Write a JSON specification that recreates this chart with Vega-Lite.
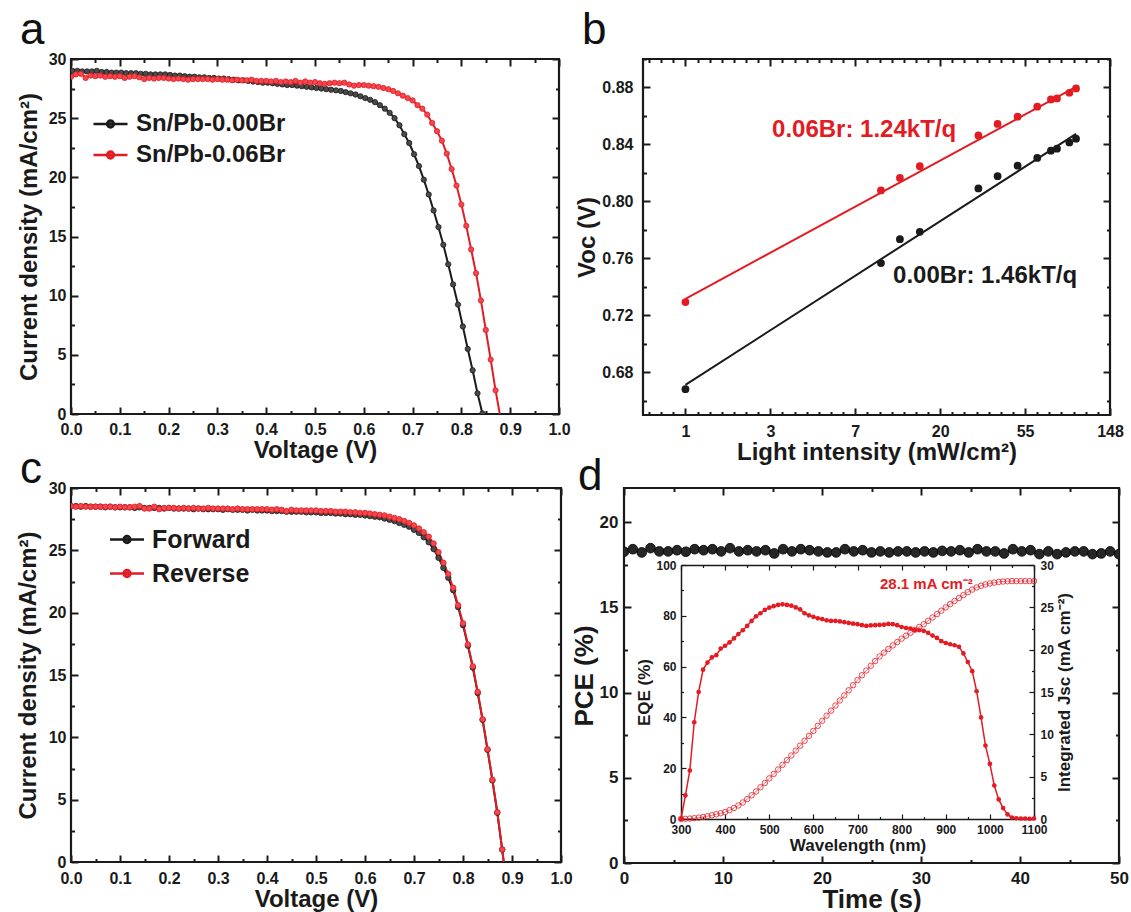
{
"$schema": "https://vega.github.io/schema/vega-lite/v6.json",
"background": "white",
"padding": {"left": 15, "top": 7, "right": 0, "bottom": 0},
"config": {
  "font": "Liberation Sans",
  "view": {"stroke": "#1a1a1a", "strokeWidth": 2.2},
  "title": {"font": "Liberation Sans"},
  "axis": {"domain": false, "grid": false, "ticks": true, "tickWidth": 2, "tickColor": "#1a1a1a", "labelFont": "Liberation Sans", "labelFontWeight": "bold", "labelColor": "#1a1a1a", "titleFont": "Liberation Sans", "titleFontWeight": "bold", "titleColor": "#1a1a1a", "labelFlush": false, "labelOverlap": false, "labelBound": false}
},
"datasets": {
"jvA": [
{"series":"Sn/Pb-0.00Br","V":0.003,"J":29.0},{"series":"Sn/Pb-0.00Br","V":0.013,"J":29.0},{"series":"Sn/Pb-0.00Br","V":0.023,"J":28.95},{"series":"Sn/Pb-0.00Br","V":0.033,"J":28.95},{"series":"Sn/Pb-0.00Br","V":0.043,"J":28.95},{"series":"Sn/Pb-0.00Br","V":0.053,"J":29.0},{"series":"Sn/Pb-0.00Br","V":0.063,"J":28.9},{"series":"Sn/Pb-0.00Br","V":0.073,"J":28.9},{"series":"Sn/Pb-0.00Br","V":0.083,"J":28.85},{"series":"Sn/Pb-0.00Br","V":0.093,"J":28.85},
{"series":"Sn/Pb-0.00Br","V":0.103,"J":28.85},{"series":"Sn/Pb-0.00Br","V":0.113,"J":28.8},{"series":"Sn/Pb-0.00Br","V":0.123,"J":28.8},{"series":"Sn/Pb-0.00Br","V":0.133,"J":28.8},{"series":"Sn/Pb-0.00Br","V":0.143,"J":28.75},{"series":"Sn/Pb-0.00Br","V":0.153,"J":28.75},{"series":"Sn/Pb-0.00Br","V":0.163,"J":28.7},{"series":"Sn/Pb-0.00Br","V":0.173,"J":28.7},{"series":"Sn/Pb-0.00Br","V":0.183,"J":28.7},{"series":"Sn/Pb-0.00Br","V":0.193,"J":28.7},
{"series":"Sn/Pb-0.00Br","V":0.203,"J":28.65},{"series":"Sn/Pb-0.00Br","V":0.213,"J":28.6},{"series":"Sn/Pb-0.00Br","V":0.223,"J":28.6},{"series":"Sn/Pb-0.00Br","V":0.233,"J":28.55},{"series":"Sn/Pb-0.00Br","V":0.243,"J":28.5},{"series":"Sn/Pb-0.00Br","V":0.253,"J":28.5},{"series":"Sn/Pb-0.00Br","V":0.263,"J":28.45},{"series":"Sn/Pb-0.00Br","V":0.273,"J":28.45},{"series":"Sn/Pb-0.00Br","V":0.283,"J":28.4},{"series":"Sn/Pb-0.00Br","V":0.293,"J":28.4},
{"series":"Sn/Pb-0.00Br","V":0.303,"J":28.35},{"series":"Sn/Pb-0.00Br","V":0.313,"J":28.35},{"series":"Sn/Pb-0.00Br","V":0.323,"J":28.3},{"series":"Sn/Pb-0.00Br","V":0.333,"J":28.25},{"series":"Sn/Pb-0.00Br","V":0.343,"J":28.2},{"series":"Sn/Pb-0.00Br","V":0.353,"J":28.2},{"series":"Sn/Pb-0.00Br","V":0.363,"J":28.15},{"series":"Sn/Pb-0.00Br","V":0.373,"J":28.1},{"series":"Sn/Pb-0.00Br","V":0.383,"J":28.05},{"series":"Sn/Pb-0.00Br","V":0.393,"J":28.0},
{"series":"Sn/Pb-0.00Br","V":0.403,"J":28.0},{"series":"Sn/Pb-0.00Br","V":0.413,"J":27.95},{"series":"Sn/Pb-0.00Br","V":0.423,"J":27.9},{"series":"Sn/Pb-0.00Br","V":0.433,"J":27.85},{"series":"Sn/Pb-0.00Br","V":0.443,"J":27.8},{"series":"Sn/Pb-0.00Br","V":0.453,"J":27.8},{"series":"Sn/Pb-0.00Br","V":0.463,"J":27.75},{"series":"Sn/Pb-0.00Br","V":0.473,"J":27.7},{"series":"Sn/Pb-0.00Br","V":0.483,"J":27.65},{"series":"Sn/Pb-0.00Br","V":0.493,"J":27.6},
{"series":"Sn/Pb-0.00Br","V":0.503,"J":27.55},{"series":"Sn/Pb-0.00Br","V":0.513,"J":27.5},{"series":"Sn/Pb-0.00Br","V":0.523,"J":27.45},{"series":"Sn/Pb-0.00Br","V":0.533,"J":27.4},{"series":"Sn/Pb-0.00Br","V":0.543,"J":27.35},{"series":"Sn/Pb-0.00Br","V":0.553,"J":27.3},{"series":"Sn/Pb-0.00Br","V":0.563,"J":27.2},{"series":"Sn/Pb-0.00Br","V":0.573,"J":27.1},{"series":"Sn/Pb-0.00Br","V":0.583,"J":27.0},{"series":"Sn/Pb-0.00Br","V":0.593,"J":26.85},
{"series":"Sn/Pb-0.00Br","V":0.603,"J":26.7},{"series":"Sn/Pb-0.00Br","V":0.613,"J":26.55},{"series":"Sn/Pb-0.00Br","V":0.623,"J":26.35},{"series":"Sn/Pb-0.00Br","V":0.633,"J":26.1},{"series":"Sn/Pb-0.00Br","V":0.643,"J":25.8},{"series":"Sn/Pb-0.00Br","V":0.653,"J":25.45},{"series":"Sn/Pb-0.00Br","V":0.663,"J":25.0},{"series":"Sn/Pb-0.00Br","V":0.673,"J":24.4},{"series":"Sn/Pb-0.00Br","V":0.683,"J":23.65},{"series":"Sn/Pb-0.00Br","V":0.693,"J":22.9},
{"series":"Sn/Pb-0.00Br","V":0.703,"J":21.95},{"series":"Sn/Pb-0.00Br","V":0.713,"J":20.95},{"series":"Sn/Pb-0.00Br","V":0.723,"J":19.8},{"series":"Sn/Pb-0.00Br","V":0.733,"J":18.55},{"series":"Sn/Pb-0.00Br","V":0.743,"J":17.2},{"series":"Sn/Pb-0.00Br","V":0.753,"J":15.8},{"series":"Sn/Pb-0.00Br","V":0.763,"J":14.3},{"series":"Sn/Pb-0.00Br","V":0.773,"J":12.65},{"series":"Sn/Pb-0.00Br","V":0.783,"J":10.95},{"series":"Sn/Pb-0.00Br","V":0.793,"J":9.25},
{"series":"Sn/Pb-0.00Br","V":0.803,"J":7.4},{"series":"Sn/Pb-0.00Br","V":0.813,"J":5.5},{"series":"Sn/Pb-0.00Br","V":0.823,"J":3.7},{"series":"Sn/Pb-0.00Br","V":0.833,"J":1.75},{"series":"Sn/Pb-0.00Br","V":0.843,"J":0.05},
{"series":"Sn/Pb-0.06Br","V":0.0,"J":28.5},{"series":"Sn/Pb-0.06Br","V":0.01,"J":28.7},{"series":"Sn/Pb-0.06Br","V":0.02,"J":28.75},{"series":"Sn/Pb-0.06Br","V":0.03,"J":28.4},{"series":"Sn/Pb-0.06Br","V":0.04,"J":28.6},{"series":"Sn/Pb-0.06Br","V":0.05,"J":28.55},{"series":"Sn/Pb-0.06Br","V":0.06,"J":28.6},{"series":"Sn/Pb-0.06Br","V":0.07,"J":28.5},{"series":"Sn/Pb-0.06Br","V":0.08,"J":28.55},{"series":"Sn/Pb-0.06Br","V":0.09,"J":28.5},
{"series":"Sn/Pb-0.06Br","V":0.1,"J":28.55},{"series":"Sn/Pb-0.06Br","V":0.11,"J":28.4},{"series":"Sn/Pb-0.06Br","V":0.12,"J":28.5},{"series":"Sn/Pb-0.06Br","V":0.13,"J":28.55},{"series":"Sn/Pb-0.06Br","V":0.14,"J":28.45},{"series":"Sn/Pb-0.06Br","V":0.15,"J":28.3},{"series":"Sn/Pb-0.06Br","V":0.16,"J":28.4},{"series":"Sn/Pb-0.06Br","V":0.17,"J":28.35},{"series":"Sn/Pb-0.06Br","V":0.18,"J":28.4},{"series":"Sn/Pb-0.06Br","V":0.19,"J":28.4},
{"series":"Sn/Pb-0.06Br","V":0.2,"J":28.35},{"series":"Sn/Pb-0.06Br","V":0.21,"J":28.3},{"series":"Sn/Pb-0.06Br","V":0.22,"J":28.35},{"series":"Sn/Pb-0.06Br","V":0.23,"J":28.3},{"series":"Sn/Pb-0.06Br","V":0.24,"J":28.25},{"series":"Sn/Pb-0.06Br","V":0.25,"J":28.3},{"series":"Sn/Pb-0.06Br","V":0.26,"J":28.3},{"series":"Sn/Pb-0.06Br","V":0.27,"J":28.3},{"series":"Sn/Pb-0.06Br","V":0.28,"J":28.3},{"series":"Sn/Pb-0.06Br","V":0.29,"J":28.25},
{"series":"Sn/Pb-0.06Br","V":0.3,"J":28.3},{"series":"Sn/Pb-0.06Br","V":0.31,"J":28.25},{"series":"Sn/Pb-0.06Br","V":0.32,"J":28.25},{"series":"Sn/Pb-0.06Br","V":0.33,"J":28.2},{"series":"Sn/Pb-0.06Br","V":0.34,"J":28.25},{"series":"Sn/Pb-0.06Br","V":0.35,"J":28.2},{"series":"Sn/Pb-0.06Br","V":0.36,"J":28.2},{"series":"Sn/Pb-0.06Br","V":0.37,"J":28.25},{"series":"Sn/Pb-0.06Br","V":0.38,"J":28.15},{"series":"Sn/Pb-0.06Br","V":0.39,"J":28.15},
{"series":"Sn/Pb-0.06Br","V":0.4,"J":28.15},{"series":"Sn/Pb-0.06Br","V":0.41,"J":28.1},{"series":"Sn/Pb-0.06Br","V":0.42,"J":28.15},{"series":"Sn/Pb-0.06Br","V":0.43,"J":28.05},{"series":"Sn/Pb-0.06Br","V":0.44,"J":28.1},{"series":"Sn/Pb-0.06Br","V":0.45,"J":28.05},{"series":"Sn/Pb-0.06Br","V":0.46,"J":28.15},{"series":"Sn/Pb-0.06Br","V":0.47,"J":28.0},{"series":"Sn/Pb-0.06Br","V":0.48,"J":28.1},{"series":"Sn/Pb-0.06Br","V":0.49,"J":28.0},
{"series":"Sn/Pb-0.06Br","V":0.5,"J":28.05},{"series":"Sn/Pb-0.06Br","V":0.51,"J":27.95},{"series":"Sn/Pb-0.06Br","V":0.52,"J":27.9},{"series":"Sn/Pb-0.06Br","V":0.53,"J":27.95},{"series":"Sn/Pb-0.06Br","V":0.54,"J":28.0},{"series":"Sn/Pb-0.06Br","V":0.55,"J":27.95},{"series":"Sn/Pb-0.06Br","V":0.56,"J":28.0},{"series":"Sn/Pb-0.06Br","V":0.57,"J":27.85},{"series":"Sn/Pb-0.06Br","V":0.58,"J":27.75},{"series":"Sn/Pb-0.06Br","V":0.59,"J":27.8},
{"series":"Sn/Pb-0.06Br","V":0.6,"J":27.8},{"series":"Sn/Pb-0.06Br","V":0.61,"J":27.75},{"series":"Sn/Pb-0.06Br","V":0.62,"J":27.7},{"series":"Sn/Pb-0.06Br","V":0.63,"J":27.65},{"series":"Sn/Pb-0.06Br","V":0.64,"J":27.55},{"series":"Sn/Pb-0.06Br","V":0.65,"J":27.45},{"series":"Sn/Pb-0.06Br","V":0.66,"J":27.3},{"series":"Sn/Pb-0.06Br","V":0.67,"J":27.1},{"series":"Sn/Pb-0.06Br","V":0.68,"J":26.9},{"series":"Sn/Pb-0.06Br","V":0.69,"J":26.7},
{"series":"Sn/Pb-0.06Br","V":0.7,"J":26.5},{"series":"Sn/Pb-0.06Br","V":0.71,"J":26.1},{"series":"Sn/Pb-0.06Br","V":0.72,"J":25.8},{"series":"Sn/Pb-0.06Br","V":0.73,"J":25.3},{"series":"Sn/Pb-0.06Br","V":0.74,"J":24.6},{"series":"Sn/Pb-0.06Br","V":0.75,"J":23.9},{"series":"Sn/Pb-0.06Br","V":0.76,"J":23.1},{"series":"Sn/Pb-0.06Br","V":0.77,"J":22.0},{"series":"Sn/Pb-0.06Br","V":0.78,"J":20.7},{"series":"Sn/Pb-0.06Br","V":0.79,"J":19.3},
{"series":"Sn/Pb-0.06Br","V":0.8,"J":17.7},{"series":"Sn/Pb-0.06Br","V":0.81,"J":15.9},{"series":"Sn/Pb-0.06Br","V":0.82,"J":13.9},{"series":"Sn/Pb-0.06Br","V":0.83,"J":11.9},{"series":"Sn/Pb-0.06Br","V":0.84,"J":9.6},{"series":"Sn/Pb-0.06Br","V":0.85,"J":7.1},{"series":"Sn/Pb-0.06Br","V":0.86,"J":4.6},{"series":"Sn/Pb-0.06Br","V":0.87,"J":2.0},{"series":"Sn/Pb-0.06Br","V":0.883,"J":-1.0}
],
"jvC": [
{"series":"Forward","V":0.0,"J":28.55},{"series":"Forward","V":0.01,"J":28.55},{"series":"Forward","V":0.02,"J":28.5},{"series":"Forward","V":0.03,"J":28.55},{"series":"Forward","V":0.04,"J":28.5},{"series":"Forward","V":0.05,"J":28.5},{"series":"Forward","V":0.06,"J":28.5},{"series":"Forward","V":0.07,"J":28.45},{"series":"Forward","V":0.08,"J":28.5},{"series":"Forward","V":0.09,"J":28.45},
{"series":"Forward","V":0.1,"J":28.45},{"series":"Forward","V":0.11,"J":28.45},{"series":"Forward","V":0.12,"J":28.45},{"series":"Forward","V":0.13,"J":28.4},{"series":"Forward","V":0.14,"J":28.45},{"series":"Forward","V":0.15,"J":28.4},{"series":"Forward","V":0.16,"J":28.4},{"series":"Forward","V":0.17,"J":28.4},{"series":"Forward","V":0.18,"J":28.4},{"series":"Forward","V":0.19,"J":28.35},
{"series":"Forward","V":0.2,"J":28.4},{"series":"Forward","V":0.21,"J":28.35},{"series":"Forward","V":0.22,"J":28.35},{"series":"Forward","V":0.23,"J":28.35},{"series":"Forward","V":0.24,"J":28.35},{"series":"Forward","V":0.25,"J":28.3},{"series":"Forward","V":0.26,"J":28.35},{"series":"Forward","V":0.27,"J":28.3},{"series":"Forward","V":0.28,"J":28.3},{"series":"Forward","V":0.29,"J":28.3},
{"series":"Forward","V":0.3,"J":28.3},{"series":"Forward","V":0.31,"J":28.25},{"series":"Forward","V":0.32,"J":28.3},{"series":"Forward","V":0.33,"J":28.25},{"series":"Forward","V":0.34,"J":28.25},{"series":"Forward","V":0.35,"J":28.25},{"series":"Forward","V":0.36,"J":28.2},{"series":"Forward","V":0.37,"J":28.25},{"series":"Forward","V":0.38,"J":28.2},{"series":"Forward","V":0.39,"J":28.2},
{"series":"Forward","V":0.4,"J":28.2},{"series":"Forward","V":0.41,"J":28.15},{"series":"Forward","V":0.42,"J":28.15},{"series":"Forward","V":0.43,"J":28.15},{"series":"Forward","V":0.44,"J":28.1},{"series":"Forward","V":0.45,"J":28.1},{"series":"Forward","V":0.46,"J":28.1},{"series":"Forward","V":0.47,"J":28.1},{"series":"Forward","V":0.48,"J":28.05},{"series":"Forward","V":0.49,"J":28.05},
{"series":"Forward","V":0.5,"J":28.05},{"series":"Forward","V":0.51,"J":28.0},{"series":"Forward","V":0.52,"J":28.0},{"series":"Forward","V":0.53,"J":28.0},{"series":"Forward","V":0.54,"J":27.95},{"series":"Forward","V":0.55,"J":27.95},{"series":"Forward","V":0.56,"J":27.9},{"series":"Forward","V":0.57,"J":27.9},{"series":"Forward","V":0.58,"J":27.85},{"series":"Forward","V":0.59,"J":27.85},
{"series":"Forward","V":0.6,"J":27.8},{"series":"Forward","V":0.61,"J":27.75},{"series":"Forward","V":0.62,"J":27.7},{"series":"Forward","V":0.63,"J":27.65},{"series":"Forward","V":0.64,"J":27.55},{"series":"Forward","V":0.65,"J":27.45},{"series":"Forward","V":0.66,"J":27.35},{"series":"Forward","V":0.67,"J":27.2},{"series":"Forward","V":0.68,"J":27.05},{"series":"Forward","V":0.69,"J":26.9},
{"series":"Forward","V":0.7,"J":26.65},{"series":"Forward","V":0.71,"J":26.4},{"series":"Forward","V":0.72,"J":26.05},{"series":"Forward","V":0.73,"J":25.65},{"series":"Forward","V":0.74,"J":25.1},{"series":"Forward","V":0.75,"J":24.4},{"series":"Forward","V":0.76,"J":23.6},{"series":"Forward","V":0.77,"J":22.8},{"series":"Forward","V":0.78,"J":21.8},{"series":"Forward","V":0.79,"J":20.45},
{"series":"Forward","V":0.8,"J":19.0},{"series":"Forward","V":0.81,"J":17.35},{"series":"Forward","V":0.82,"J":15.6},{"series":"Forward","V":0.83,"J":13.55},{"series":"Forward","V":0.84,"J":11.4},{"series":"Forward","V":0.85,"J":9.0},{"series":"Forward","V":0.86,"J":6.55},{"series":"Forward","V":0.87,"J":3.95},{"series":"Forward","V":0.88,"J":1.0},{"series":"Forward","V":0.888,"J":-1.6},
{"series":"Reverse","V":0.0,"J":28.55},{"series":"Reverse","V":0.01,"J":28.5},{"series":"Reverse","V":0.02,"J":28.55},{"series":"Reverse","V":0.03,"J":28.5},{"series":"Reverse","V":0.04,"J":28.5},{"series":"Reverse","V":0.05,"J":28.5},{"series":"Reverse","V":0.06,"J":28.5},{"series":"Reverse","V":0.07,"J":28.5},{"series":"Reverse","V":0.08,"J":28.5},{"series":"Reverse","V":0.09,"J":28.45},
{"series":"Reverse","V":0.1,"J":28.5},{"series":"Reverse","V":0.11,"J":28.45},{"series":"Reverse","V":0.12,"J":28.45},{"series":"Reverse","V":0.13,"J":28.5},{"series":"Reverse","V":0.14,"J":28.55},{"series":"Reverse","V":0.15,"J":28.35},{"series":"Reverse","V":0.16,"J":28.35},{"series":"Reverse","V":0.17,"J":28.5},{"series":"Reverse","V":0.18,"J":28.3},{"series":"Reverse","V":0.19,"J":28.4},
{"series":"Reverse","V":0.2,"J":28.4},{"series":"Reverse","V":0.21,"J":28.4},{"series":"Reverse","V":0.22,"J":28.35},{"series":"Reverse","V":0.23,"J":28.4},{"series":"Reverse","V":0.24,"J":28.35},{"series":"Reverse","V":0.25,"J":28.4},{"series":"Reverse","V":0.26,"J":28.35},{"series":"Reverse","V":0.27,"J":28.35},{"series":"Reverse","V":0.28,"J":28.4},{"series":"Reverse","V":0.29,"J":28.35},
{"series":"Reverse","V":0.3,"J":28.35},{"series":"Reverse","V":0.31,"J":28.35},{"series":"Reverse","V":0.32,"J":28.35},{"series":"Reverse","V":0.33,"J":28.3},{"series":"Reverse","V":0.34,"J":28.35},{"series":"Reverse","V":0.35,"J":28.3},{"series":"Reverse","V":0.36,"J":28.3},{"series":"Reverse","V":0.37,"J":28.3},{"series":"Reverse","V":0.38,"J":28.3},{"series":"Reverse","V":0.39,"J":28.3},
{"series":"Reverse","V":0.4,"J":28.3},{"series":"Reverse","V":0.41,"J":28.25},{"series":"Reverse","V":0.42,"J":28.3},{"series":"Reverse","V":0.43,"J":28.25},{"series":"Reverse","V":0.44,"J":28.15},{"series":"Reverse","V":0.45,"J":28.25},{"series":"Reverse","V":0.46,"J":28.2},{"series":"Reverse","V":0.47,"J":28.2},{"series":"Reverse","V":0.48,"J":28.2},{"series":"Reverse","V":0.49,"J":28.2},
{"series":"Reverse","V":0.5,"J":28.2},{"series":"Reverse","V":0.51,"J":28.15},{"series":"Reverse","V":0.52,"J":28.15},{"series":"Reverse","V":0.53,"J":28.15},{"series":"Reverse","V":0.54,"J":28.1},{"series":"Reverse","V":0.55,"J":28.1},{"series":"Reverse","V":0.56,"J":28.1},{"series":"Reverse","V":0.57,"J":28.05},{"series":"Reverse","V":0.58,"J":28.05},{"series":"Reverse","V":0.59,"J":28.0},
{"series":"Reverse","V":0.6,"J":28.0},{"series":"Reverse","V":0.61,"J":27.95},{"series":"Reverse","V":0.62,"J":27.9},{"series":"Reverse","V":0.63,"J":27.85},{"series":"Reverse","V":0.64,"J":27.8},{"series":"Reverse","V":0.65,"J":27.7},{"series":"Reverse","V":0.66,"J":27.6},{"series":"Reverse","V":0.67,"J":27.5},{"series":"Reverse","V":0.68,"J":27.35},{"series":"Reverse","V":0.69,"J":27.2},
{"series":"Reverse","V":0.7,"J":27.0},{"series":"Reverse","V":0.71,"J":26.75},{"series":"Reverse","V":0.72,"J":26.45},{"series":"Reverse","V":0.73,"J":26.1},{"series":"Reverse","V":0.74,"J":25.55},{"series":"Reverse","V":0.75,"J":24.85},{"series":"Reverse","V":0.76,"J":24.0},{"series":"Reverse","V":0.77,"J":23.1},{"series":"Reverse","V":0.78,"J":22.0},{"series":"Reverse","V":0.79,"J":20.6},
{"series":"Reverse","V":0.8,"J":19.15},{"series":"Reverse","V":0.81,"J":17.45},{"series":"Reverse","V":0.82,"J":15.7},{"series":"Reverse","V":0.83,"J":13.65},{"series":"Reverse","V":0.84,"J":11.45},{"series":"Reverse","V":0.85,"J":9.05},{"series":"Reverse","V":0.86,"J":6.6},{"series":"Reverse","V":0.87,"J":4.0},{"series":"Reverse","V":0.88,"J":1.0},{"series":"Reverse","V":0.888,"J":-1.5}
],
"bPts": [
{"series":"0.06Br","I":1,"V":0.7293},{"series":"0.06Br","I":10,"V":0.8077},{"series":"0.06Br","I":12.5,"V":0.8165},{"series":"0.06Br","I":15.8,"V":0.8247},{"series":"0.06Br","I":31.5,"V":0.8463},{"series":"0.06Br","I":39.5,"V":0.8544},{"series":"0.06Br","I":50,"V":0.8595},{"series":"0.06Br","I":63,"V":0.8665},{"series":"0.06Br","I":74,"V":0.8716},{"series":"0.06Br","I":79.5,"V":0.8723},{"series":"0.06Br","I":92,"V":0.8763},{"series":"0.06Br","I":99.5,"V":0.8793},
{"series":"0.00Br","I":1,"V":0.6681},{"series":"0.00Br","I":10,"V":0.7567},{"series":"0.00Br","I":12.5,"V":0.7735},{"series":"0.00Br","I":15.8,"V":0.7786},{"series":"0.00Br","I":31.5,"V":0.8091},{"series":"0.00Br","I":39.5,"V":0.8177},{"series":"0.00Br","I":50,"V":0.8251},{"series":"0.00Br","I":63,"V":0.8305},{"series":"0.00Br","I":74,"V":0.8356},{"series":"0.00Br","I":79.5,"V":0.837},{"series":"0.00Br","I":92,"V":0.8414},{"series":"0.00Br","I":99.5,"V":0.844}
],
"bFit": [
{"series":"0.06Br","I":1,"V":0.7316},{"series":"0.06Br","I":99.5,"V":0.8805},
{"series":"0.00Br","I":1,"V":0.6712},{"series":"0.00Br","I":99.5,"V":0.8474}
],
"bTxt": [
{"series":"0.06Br","I":2.773,"V":0.8453,"label":"0.06Br: 1.24kT/q"},
{"series":"0.00Br","I":11.53,"V":0.7429,"label":"0.00Br: 1.46kT/q"}
],
"pce": [
{"t":0,"pce":18.26},{"t":0.89,"pce":18.41},{"t":1.79,"pce":18.22},{"t":2.68,"pce":18.47},{"t":3.57,"pce":18.28},{"t":4.46,"pce":18.28},{"t":5.36,"pce":18.35},{"t":6.25,"pce":18.26},{"t":7.14,"pce":18.41},{"t":8.04,"pce":18.35},
{"t":8.93,"pce":18.41},{"t":9.82,"pce":18.28},{"t":10.71,"pce":18.47},{"t":11.61,"pce":18.28},{"t":12.5,"pce":18.35},{"t":13.39,"pce":18.28},{"t":14.29,"pce":18.35},{"t":15.18,"pce":18.16},{"t":16.07,"pce":18.41},{"t":16.96,"pce":18.28},
{"t":17.86,"pce":18.41},{"t":18.75,"pce":18.35},{"t":19.64,"pce":18.28},{"t":20.54,"pce":18.22},{"t":21.43,"pce":18.22},{"t":22.32,"pce":18.41},{"t":23.21,"pce":18.28},{"t":24.11,"pce":18.35},{"t":25.0,"pce":18.22},{"t":25.89,"pce":18.28},
{"t":26.79,"pce":18.22},{"t":27.68,"pce":18.28},{"t":28.57,"pce":18.28},{"t":29.46,"pce":18.22},{"t":30.36,"pce":18.28},{"t":31.25,"pce":18.22},{"t":32.14,"pce":18.31},{"t":33.04,"pce":18.28},{"t":33.93,"pce":18.35},{"t":34.82,"pce":18.22},
{"t":35.71,"pce":18.41},{"t":36.61,"pce":18.28},{"t":37.5,"pce":18.28},{"t":38.39,"pce":18.16},{"t":39.29,"pce":18.41},{"t":40.18,"pce":18.28},{"t":41.07,"pce":18.35},{"t":41.96,"pce":18.12},{"t":42.86,"pce":18.28},{"t":43.75,"pce":18.12},
{"t":44.64,"pce":18.22},{"t":45.54,"pce":18.28},{"t":46.43,"pce":18.28},{"t":47.32,"pce":18.12},{"t":48.21,"pce":18.16},{"t":49.11,"pce":18.28},{"t":50.0,"pce":18.12}
],
"eqe": [
{"wl":300,"eqe":0,"jsc":0},{"wl":310,"eqe":9.3,"jsc":0.02},{"wl":320,"eqe":19.1,"jsc":0.05},{"wl":330,"eqe":38.1,"jsc":0.1},{"wl":340,"eqe":50.0,"jsc":0.16},{"wl":350,"eqe":58.8,"jsc":0.24},{"wl":360,"eqe":61.6,"jsc":0.33},{"wl":370,"eqe":63.6,"jsc":0.44},{"wl":380,"eqe":64.5,"jsc":0.56},{"wl":390,"eqe":67.1,"jsc":0.68},
{"wl":400,"eqe":68.2,"jsc":0.82},{"wl":410,"eqe":69.5,"jsc":1.05},{"wl":420,"eqe":71.1,"jsc":1.3},{"wl":430,"eqe":72.8,"jsc":1.6},{"wl":440,"eqe":74.3,"jsc":1.95},{"wl":450,"eqe":76.0,"jsc":2.35},{"wl":460,"eqe":78.0,"jsc":2.8},{"wl":470,"eqe":79.8,"jsc":3.25},{"wl":480,"eqe":81.0,"jsc":3.75},{"wl":490,"eqe":82.3,"jsc":4.25},
{"wl":500,"eqe":83.2,"jsc":4.8},{"wl":510,"eqe":83.8,"jsc":5.32},{"wl":520,"eqe":84.3,"jsc":5.85},{"wl":530,"eqe":84.5,"jsc":6.4},{"wl":540,"eqe":84.3,"jsc":6.95},{"wl":550,"eqe":84.0,"jsc":7.5},{"wl":560,"eqe":83.3,"jsc":8.08},{"wl":570,"eqe":82.5,"jsc":8.66},{"wl":580,"eqe":81.0,"jsc":9.24},{"wl":590,"eqe":80.2,"jsc":9.82},
{"wl":600,"eqe":79.6,"jsc":10.4},{"wl":610,"eqe":79.0,"jsc":11.0},{"wl":620,"eqe":78.7,"jsc":11.6},{"wl":630,"eqe":78.2,"jsc":12.2},{"wl":640,"eqe":78.0,"jsc":12.8},{"wl":650,"eqe":78.0,"jsc":13.4},{"wl":660,"eqe":77.8,"jsc":14.0},{"wl":670,"eqe":77.5,"jsc":14.6},{"wl":680,"eqe":77.2,"jsc":15.2},{"wl":690,"eqe":76.9,"jsc":15.8},
{"wl":700,"eqe":76.7,"jsc":16.4},{"wl":710,"eqe":76.3,"jsc":16.98},{"wl":720,"eqe":76.0,"jsc":17.54},{"wl":730,"eqe":76.2,"jsc":18.1},{"wl":740,"eqe":76.3,"jsc":18.65},{"wl":750,"eqe":76.4,"jsc":19.2},{"wl":760,"eqe":76.5,"jsc":19.65},{"wl":770,"eqe":76.8,"jsc":20.08},{"wl":780,"eqe":76.7,"jsc":20.5},{"wl":790,"eqe":76.3,"jsc":20.9},
{"wl":800,"eqe":75.6,"jsc":21.3},{"wl":810,"eqe":75.2,"jsc":21.65},{"wl":820,"eqe":75.0,"jsc":22.0},{"wl":830,"eqe":74.4,"jsc":22.35},{"wl":840,"eqe":74.3,"jsc":22.68},{"wl":850,"eqe":74.1,"jsc":23.0},{"wl":860,"eqe":73.3,"jsc":23.4},{"wl":870,"eqe":72.2,"jsc":23.8},{"wl":880,"eqe":71.3,"jsc":24.2},{"wl":890,"eqe":70.0,"jsc":24.6},
{"wl":900,"eqe":69.3,"jsc":25.0},{"wl":910,"eqe":68.8,"jsc":25.38},{"wl":920,"eqe":68.4,"jsc":25.75},{"wl":930,"eqe":67.8,"jsc":26.1},{"wl":940,"eqe":65.2,"jsc":26.45},{"wl":950,"eqe":61.8,"jsc":26.8},{"wl":960,"eqe":58.2,"jsc":27.1},{"wl":970,"eqe":50.3,"jsc":27.35},{"wl":980,"eqe":40.0,"jsc":27.55},{"wl":990,"eqe":28.9,"jsc":27.7},
{"wl":1000,"eqe":21.7,"jsc":27.82},{"wl":1010,"eqe":13.2,"jsc":27.92},{"wl":1020,"eqe":7.7,"jsc":28.0},{"wl":1030,"eqe":4.3,"jsc":28.05},{"wl":1040,"eqe":1.8,"jsc":28.08},{"wl":1050,"eqe":0.6,"jsc":28.1},{"wl":1060,"eqe":0.3,"jsc":28.1},{"wl":1070,"eqe":0.2,"jsc":28.1},{"wl":1080,"eqe":0.2,"jsc":28.1},{"wl":1090,"eqe":0.1,"jsc":28.1},
{"wl":1100,"eqe":0.2,"jsc":28.1}
],
"note": [{"wl":751,"jsc":27.17,"label":"28.1 mA cm\u207b\u00b2"}]
},
"spacing": -20,
"resolve": {"scale": {"fill": "independent", "stroke": "independent", "color": "independent"}, "legend": {"fill": "independent", "stroke": "independent", "color": "independent"}},
"vconcat": [
{"spacing": 2, "resolve": {"scale": {"fill": "independent", "stroke": "independent", "color": "independent"}, "legend": {"fill": "independent", "stroke": "independent", "color": "independent"}}, "hconcat": [
 {
  "width": 488, "height": 355,
  "title": {"text": "a", "anchor": "start", "frame": "group", "align": "left", "baseline": "alphabetic", "offset": -37, "dx": -51, "fontSize": 44, "fontWeight": "normal", "color": "#111111"},
  "data": {"name": "jvA"},
  "layer": [
   {"mark": {"type": "line", "strokeWidth": 2, "clip": true},
    "encoding": {
     "x": {"field": "V", "type": "quantitative", "scale": {"domain": [0, 1], "nice": false, "zero": false},
       "axis": {"orient": "bottom", "values": [0,0.05,0.1,0.15,0.2,0.25,0.3,0.35,0.4,0.45,0.5,0.55,0.6,0.65,0.7,0.75,0.8,0.85,0.9,0.95,1], "labelExpr": "round(datum.value*100) % 10 === 0 ? format(datum.value, '.1f') : ''", "tickSize": {"condition": {"test": "round(datum.value*100) % 10 !== 0", "value": -3.5}, "value": -7}, "labelPadding": 14, "labelFontSize": 16, "title": "Voltage (V)", "titleFontSize": 24, "titlePadding": -2}},
     "y": {"field": "J", "type": "quantitative", "scale": {"domain": [0, 30], "nice": false, "zero": false},
       "axis": {"orient": "left", "values": [0,2.5,5,7.5,10,12.5,15,17.5,20,22.5,25,27.5,30], "labelExpr": "datum.value % 5 === 0 ? format(datum.value, 'd') : ''", "tickSize": {"condition": {"test": "datum.value % 5 !== 0", "value": -3.5}, "value": -7}, "labelPadding": 12, "labelFontSize": 16, "title": "Current density (mA/cm\u00b2)", "titleFontSize": 24, "titlePadding": 7}},
     "stroke": {"field": "series", "type": "nominal", "scale": {"domain": ["Sn/Pb-0.00Br", "Sn/Pb-0.06Br"], "range": ["#1a1a1a", "#e31b23"]},
       "legend": {"orient": "none", "legendX": 27.5, "legendY": 53, "title": null, "symbolType": "M-2,0H2M0.4,0A0.4,0.4,0,1,1,-0.4,0A0.4,0.4,0,1,1,0.4,0Z", "symbolSize": 289, "symbolStrokeWidth": 2.5, "symbolFillColor": "#888888", "labelFontSize": 24, "labelFont": "Liberation Sans", "labelFontWeight": "bold", "labelColor": "#1a1a1a", "labelOffset": 13.5, "rowPadding": 7, "padding": 0, "labelLimit": 400}}
    }},
   {"mark": {"type": "point", "filled": true, "size": 28, "strokeWidth": 0.8, "opacity": 1, "clip": true},
    "encoding": {
     "x": {"field": "V", "type": "quantitative", "scale": {"domain": [0, 1], "nice": false, "zero": false}, "axis": null},
     "y": {"field": "J", "type": "quantitative", "scale": {"domain": [0, 30], "nice": false, "zero": false}, "axis": null},
     "fill": {"field": "series", "type": "nominal", "scale": {"domain": ["Sn/Pb-0.00Br", "Sn/Pb-0.06Br"], "range": ["#4a4a4a", "#f2474d"]},
       "legend": {"orient": "none", "legendX": 27.5, "legendY": 53, "title": null, "symbolType": "M-2,0H2M0.4,0A0.4,0.4,0,1,1,-0.4,0A0.4,0.4,0,1,1,0.4,0Z", "symbolSize": 289, "symbolStrokeWidth": 2.5, "symbolFillColor": "#888888", "labelFontSize": 24, "labelFont": "Liberation Sans", "labelFontWeight": "bold", "labelColor": "#1a1a1a", "labelOffset": 13.5, "rowPadding": 7, "padding": 0, "labelLimit": 400}},
     "stroke": {"field": "series", "type": "nominal", "scale": {"domain": ["Sn/Pb-0.00Br", "Sn/Pb-0.06Br"], "range": ["#1a1a1a", "#e31b23"]},
       "legend": {"orient": "none", "legendX": 27.5, "legendY": 53, "title": null, "symbolType": "M-2,0H2M0.4,0A0.4,0.4,0,1,1,-0.4,0A0.4,0.4,0,1,1,0.4,0Z", "symbolSize": 289, "symbolStrokeWidth": 2.5, "symbolFillColor": "#888888", "labelFontSize": 24, "labelFont": "Liberation Sans", "labelFontWeight": "bold", "labelColor": "#1a1a1a", "labelOffset": 13.5, "rowPadding": 7, "padding": 0, "labelLimit": 400}}
    }},
   {"mark": {"type": "point", "opacity": 0},
    "encoding": {
     "x": {"field": "V", "type": "quantitative", "scale": {"domain": [0, 1], "nice": false, "zero": false},
       "axis": {"orient": "top", "values": [0,0.05,0.1,0.15,0.2,0.25,0.3,0.35,0.4,0.45,0.5,0.55,0.6,0.65,0.7,0.75,0.8,0.85,0.9,0.95,1], "labels": false, "title": null, "tickSize": {"condition": {"test": "round(datum.value*100) % 10 !== 0", "value": -3.5}, "value": -7}}},
     "y": {"field": "J", "type": "quantitative", "scale": {"domain": [0, 30], "nice": false, "zero": false},
       "axis": {"orient": "right", "values": [0,2.5,5,7.5,10,12.5,15,17.5,20,22.5,25,27.5,30], "labels": false, "title": null, "tickSize": {"condition": {"test": "datum.value % 5 !== 0", "value": -3.5}, "value": -7}}}
    }}
  ],
  "resolve": {"axis": {"x": "independent", "y": "independent"}}
 },
 {
  "width": 467, "height": 356,
  "title": {"text": "b", "anchor": "start", "frame": "group", "align": "left", "baseline": "alphabetic", "offset": -37, "dx": -61, "fontSize": 44, "fontWeight": "normal", "color": "#111111"},
  "layer": [
   {"data": {"name": "bFit"}, "mark": {"type": "line", "strokeWidth": 2},
    "encoding": {
     "x": {"field": "I", "type": "quantitative", "scale": {"type": "log", "base": 2.718281828459045, "domain": [0.60653, 148.42], "nice": false},
       "axis": {"orient": "bottom", "values": [0.651439,0.751477,0.866878,1,1.153565,1.330712,1.535063,1.770795,2.042727,2.356418,2.718282,3.135715,3.617251,4.172733,4.81352,5.552707,6.405409,7.389056,8.523756,9.832703,11.34267,13.08459,15.09394,17.41184,20.085537,23.16998,26.72812,30.83263,35.56749,41.02933,47.33004,54.59815,62.98288,72.65472,83.81155,96.68211,111.529,128.6563,148.41316], "labelExpr": "abs(log(datum.value) - round(log(datum.value))) < 0.001 ? format(datum.value, '.0f') : ''", "tickSize": {"condition": {"test": "abs(log(datum.value) - round(log(datum.value))) > 0.001", "value": -3.5}, "value": -7}, "labelPadding": 15, "labelFontSize": 16, "title": "Light intensity (mW/cm\u00b2)", "titleFontSize": 24, "titlePadding": -2}},
     "y": {"field": "V", "type": "quantitative", "scale": {"domain": [0.65, 0.9], "nice": false, "zero": false},
       "axis": {"orient": "left", "values": [0.66,0.68,0.7,0.72,0.74,0.76,0.78,0.8,0.82,0.84,0.86,0.88,0.9], "labelExpr": "round(datum.value*100) % 4 === 0 ? format(datum.value, '.2f') : ''", "tickSize": {"condition": {"test": "round(datum.value*100) % 4 !== 0", "value": -3.5}, "value": -7}, "labelPadding": 17, "labelFontSize": 16, "title": "Voc (V)", "titleFontSize": 24, "titlePadding": 2}},
     "color": {"field": "series", "type": "nominal", "scale": {"domain": ["0.00Br", "0.06Br"], "range": ["#1a1a1a", "#e31b23"]}, "legend": null}
    }},
   {"data": {"name": "bPts"}, "mark": {"type": "point", "filled": true, "size": 60, "opacity": 1},
    "encoding": {
     "x": {"field": "I", "type": "quantitative", "scale": {"type": "log", "base": 2.718281828459045, "domain": [0.60653, 148.42], "nice": false}, "axis": null},
     "y": {"field": "V", "type": "quantitative", "scale": {"domain": [0.65, 0.9], "nice": false, "zero": false}, "axis": null},
     "color": {"field": "series", "type": "nominal", "scale": {"domain": ["0.00Br", "0.06Br"], "range": ["#1a1a1a", "#e31b23"]}, "legend": null}
    }},
   {"data": {"name": "bPts"}, "mark": {"type": "point", "opacity": 0},
    "encoding": {
     "x": {"field": "I", "type": "quantitative", "scale": {"type": "log", "base": 2.718281828459045, "domain": [0.60653, 148.42], "nice": false},
       "axis": {"orient": "top", "values": [0.651439,0.751477,0.866878,1,1.153565,1.330712,1.535063,1.770795,2.042727,2.356418,2.718282,3.135715,3.617251,4.172733,4.81352,5.552707,6.405409,7.389056,8.523756,9.832703,11.34267,13.08459,15.09394,17.41184,20.085537,23.16998,26.72812,30.83263,35.56749,41.02933,47.33004,54.59815,62.98288,72.65472,83.81155,96.68211,111.529,128.6563,148.41316], "labels": false, "title": null, "tickSize": {"condition": {"test": "abs(log(datum.value) - round(log(datum.value))) > 0.001", "value": -3.5}, "value": -7}}},
     "y": {"field": "V", "type": "quantitative", "scale": {"domain": [0.65, 0.9], "nice": false, "zero": false},
       "axis": {"orient": "right", "values": [0.66,0.68,0.7,0.72,0.74,0.76,0.78,0.8,0.82,0.84,0.86,0.88,0.9], "labels": false, "title": null, "tickSize": {"condition": {"test": "round(datum.value*100) % 4 !== 0", "value": -3.5}, "value": -7}}}
    }},
   {"data": {"name": "bTxt"}, "mark": {"type": "text", "align": "left", "baseline": "alphabetic", "fontSize": 24, "fontWeight": "bold", "font": "Liberation Sans"},
    "encoding": {
     "x": {"field": "I", "type": "quantitative", "scale": {"type": "log", "base": 2.718281828459045, "domain": [0.60653, 148.42], "nice": false}, "axis": null},
     "y": {"field": "V", "type": "quantitative", "scale": {"domain": [0.65, 0.9], "nice": false, "zero": false}, "axis": null},
     "text": {"field": "label"},
     "color": {"field": "series", "type": "nominal", "scale": {"domain": ["0.00Br", "0.06Br"], "range": ["#1a1a1a", "#e31b23"]}, "legend": null}
    }}
  ],
  "resolve": {"axis": {"x": "independent", "y": "independent"}}
 }
]},
{"spacing": -5, "resolve": {"scale": {"fill": "independent", "stroke": "independent", "color": "independent"}, "legend": {"fill": "independent", "stroke": "independent", "color": "independent"}}, "hconcat": [
 {
  "width": 490, "height": 374,
  "title": {"text": "c", "anchor": "start", "frame": "group", "align": "left", "baseline": "alphabetic", "offset": -47, "dx": -51, "fontSize": 44, "fontWeight": "normal", "color": "#111111"},
  "data": {"name": "jvC"},
  "layer": [
   {"mark": {"type": "line", "strokeWidth": 2, "clip": true},
    "encoding": {
     "x": {"field": "V", "type": "quantitative", "scale": {"domain": [0, 1], "nice": false, "zero": false},
       "axis": {"orient": "bottom", "values": [0,0.05,0.1,0.15,0.2,0.25,0.3,0.35,0.4,0.45,0.5,0.55,0.6,0.65,0.7,0.75,0.8,0.85,0.9,0.95,1], "labelExpr": "round(datum.value*100) % 10 === 0 ? format(datum.value, '.1f') : ''", "tickSize": {"condition": {"test": "round(datum.value*100) % 10 !== 0", "value": -3.5}, "value": -7}, "labelPadding": 15, "labelFontSize": 16, "title": "Voltage (V)", "titleFontSize": 24, "titlePadding": -2}},
     "y": {"field": "J", "type": "quantitative", "scale": {"domain": [0, 30], "nice": false, "zero": false},
       "axis": {"orient": "left", "values": [0,2.5,5,7.5,10,12.5,15,17.5,20,22.5,25,27.5,30], "labelExpr": "datum.value % 5 === 0 ? format(datum.value, 'd') : ''", "tickSize": {"condition": {"test": "datum.value % 5 !== 0", "value": -3.5}, "value": -7}, "labelPadding": 12, "labelFontSize": 16, "title": "Current density (mA/cm\u00b2)", "titleFontSize": 24, "titlePadding": 8}},
     "stroke": {"field": "series", "type": "nominal", "scale": {"domain": ["Forward", "Reverse"], "range": ["#1a1a1a", "#e31b23"]},
       "legend": {"orient": "none", "legendX": 43.5, "legendY": 39, "title": null, "symbolType": "M-2,0H2M0.4,0A0.4,0.4,0,1,1,-0.4,0A0.4,0.4,0,1,1,0.4,0Z", "symbolSize": 289, "symbolStrokeWidth": 2.5, "symbolFillColor": "#888888", "labelFontSize": 25, "labelFont": "Liberation Sans", "labelFontWeight": "bold", "labelColor": "#1a1a1a", "labelOffset": 12.5, "rowPadding": 8, "padding": 0, "labelLimit": 400}}
    }},
   {"mark": {"type": "point", "filled": true, "size": 30, "strokeWidth": 0.8, "opacity": 1, "clip": true},
    "encoding": {
     "x": {"field": "V", "type": "quantitative", "scale": {"domain": [0, 1], "nice": false, "zero": false}, "axis": null},
     "y": {"field": "J", "type": "quantitative", "scale": {"domain": [0, 30], "nice": false, "zero": false}, "axis": null},
     "fill": {"field": "series", "type": "nominal", "scale": {"domain": ["Forward", "Reverse"], "range": ["#4a4a4a", "#f2474d"]},
       "legend": {"orient": "none", "legendX": 43.5, "legendY": 39, "title": null, "symbolType": "M-2,0H2M0.4,0A0.4,0.4,0,1,1,-0.4,0A0.4,0.4,0,1,1,0.4,0Z", "symbolSize": 289, "symbolStrokeWidth": 2.5, "symbolFillColor": "#888888", "labelFontSize": 25, "labelFont": "Liberation Sans", "labelFontWeight": "bold", "labelColor": "#1a1a1a", "labelOffset": 12.5, "rowPadding": 8, "padding": 0, "labelLimit": 400}},
     "stroke": {"field": "series", "type": "nominal", "scale": {"domain": ["Forward", "Reverse"], "range": ["#1a1a1a", "#e31b23"]},
       "legend": {"orient": "none", "legendX": 43.5, "legendY": 39, "title": null, "symbolType": "M-2,0H2M0.4,0A0.4,0.4,0,1,1,-0.4,0A0.4,0.4,0,1,1,0.4,0Z", "symbolSize": 289, "symbolStrokeWidth": 2.5, "symbolFillColor": "#888888", "labelFontSize": 25, "labelFont": "Liberation Sans", "labelFontWeight": "bold", "labelColor": "#1a1a1a", "labelOffset": 12.5, "rowPadding": 8, "padding": 0, "labelLimit": 400}}
    }},
   {"mark": {"type": "point", "opacity": 0},
    "encoding": {
     "x": {"field": "V", "type": "quantitative", "scale": {"domain": [0, 1], "nice": false, "zero": false},
       "axis": {"orient": "top", "values": [0,0.05,0.1,0.15,0.2,0.25,0.3,0.35,0.4,0.45,0.5,0.55,0.6,0.65,0.7,0.75,0.8,0.85,0.9,0.95,1], "labels": false, "title": null, "tickSize": {"condition": {"test": "round(datum.value*100) % 10 !== 0", "value": -3.5}, "value": -7}}},
     "y": {"field": "J", "type": "quantitative", "scale": {"domain": [0, 30], "nice": false, "zero": false},
       "axis": {"orient": "right", "values": [0,2.5,5,7.5,10,12.5,15,17.5,20,22.5,25,27.5,30], "labels": false, "title": null, "tickSize": {"condition": {"test": "datum.value % 5 !== 0", "value": -3.5}, "value": -7}}}
    }}
  ],
  "resolve": {"axis": {"x": "independent", "y": "independent"}}
 },
 {
  "width": 495, "height": 375,
  "title": {"text": "d", "anchor": "start", "frame": "group", "align": "left", "baseline": "alphabetic", "offset": -47, "dx": -46, "fontSize": 44, "fontWeight": "normal", "color": "#111111"},
  "layer": [
   {"data": {"name": "pce"}, "mark": {"type": "line", "color": "#1a1a1a", "strokeWidth": 1.5, "clip": true},
    "encoding": {
     "x": {"field": "t", "type": "quantitative", "scale": {"domain": [0, 50], "nice": false, "zero": false},
       "axis": {"orient": "bottom", "values": [0,5,10,15,20,25,30,35,40,45,50], "labelExpr": "datum.value % 10 === 0 ? format(datum.value, 'd') : ''", "tickSize": {"condition": {"test": "datum.value % 10 !== 0", "value": -3.5}, "value": -7}, "labelPadding": 14, "labelFontSize": 17, "title": "Time (s)", "titleFontSize": 26, "titlePadding": -3}},
     "y": {"field": "pce", "type": "quantitative", "scale": {"domain": [0, 22], "nice": false, "zero": false},
       "axis": {"orient": "left", "values": [0,2.5,5,7.5,10,12.5,15,17.5,20], "labelExpr": "datum.value % 5 === 0 ? format(datum.value, 'd') : ''", "tickSize": {"condition": {"test": "datum.value % 5 !== 0", "value": -3.5}, "value": -7}, "labelPadding": 13, "labelFontSize": 17, "title": "PCE (%)", "titleFontSize": 26, "titlePadding": 2}}
    }},
   {"data": {"name": "pce"}, "mark": {"type": "point", "filled": true, "size": 95, "color": "#262626", "stroke": "#000000", "strokeWidth": 0.8, "opacity": 1, "clip": true},
    "encoding": {
     "x": {"field": "t", "type": "quantitative", "scale": {"domain": [0, 50], "nice": false, "zero": false}, "axis": null},
     "y": {"field": "pce", "type": "quantitative", "scale": {"domain": [0, 22], "nice": false, "zero": false}, "axis": null}
    }},
   {"data": {"name": "pce"}, "mark": {"type": "point", "opacity": 0},
    "encoding": {
     "x": {"field": "t", "type": "quantitative", "scale": {"domain": [0, 50], "nice": false, "zero": false},
       "axis": {"orient": "top", "values": [0,5,10,15,20,25,30,35,40,45,50], "labels": false, "title": null, "tickSize": {"condition": {"test": "datum.value % 10 !== 0", "value": -3.5}, "value": -7}}},
     "y": {"field": "pce", "type": "quantitative", "scale": {"domain": [0, 22], "nice": false, "zero": false},
       "axis": {"orient": "right", "values": [0,2.5,5,7.5,10,12.5,15,17.5,20], "labels": false, "title": null, "tickSize": {"condition": {"test": "datum.value % 5 !== 0", "value": -3.5}, "value": -7}}}
    }},
   {"data": {"name": "eqe"}, "mark": {"type": "line", "color": "#e31b23", "strokeWidth": 1.5},
    "encoding": {
     "x": {"field": "wl", "type": "quantitative", "scale": {"domain": [300, 1100], "range": [57, 410], "nice": false, "zero": false},
       "axis": {"orient": "bottom", "offset": -44, "domain": true, "domainColor": "#1a1a1a", "domainWidth": 1.5, "tickWidth": 1.2, "values": [300,350,400,450,500,550,600,650,700,750,800,850,900,950,1000,1050,1100], "labelExpr": "datum.value % 100 === 0 ? format(datum.value, 'd') : ''", "tickSize": {"condition": {"test": "datum.value % 100 !== 0", "value": -2.5}, "value": -5}, "labelPadding": 10, "labelFontSize": 12, "title": "Wavelength (nm)", "titleFontSize": 17, "titlePadding": 0}},
     "y": {"field": "eqe", "type": "quantitative", "scale": {"domain": [0, 100], "range": [331, 77], "nice": false, "zero": false},
       "axis": {"orient": "left", "offset": -57, "domain": true, "domainColor": "#1a1a1a", "domainWidth": 1.5, "tickWidth": 1.2, "values": [0,10,20,30,40,50,60,70,80,90,100], "labelExpr": "datum.value % 20 === 0 ? format(datum.value, 'd') : ''", "tickSize": {"condition": {"test": "datum.value % 20 !== 0", "value": -2.5}, "value": -5}, "labelPadding": 10, "labelFontSize": 12, "title": "EQE (%)", "titleFontSize": 17, "titlePadding": 2}}
    }},
   {"data": {"name": "eqe"}, "mark": {"type": "point", "filled": true, "size": 22, "color": "#e31b23", "opacity": 1},
    "encoding": {
     "x": {"field": "wl", "type": "quantitative", "scale": {"domain": [300, 1100], "range": [57, 410], "nice": false, "zero": false}, "axis": null},
     "y": {"field": "eqe", "type": "quantitative", "scale": {"domain": [0, 100], "range": [331, 77], "nice": false, "zero": false}, "axis": null}
    }},
   {"data": {"name": "eqe"}, "mark": {"type": "line", "color": "#e31b23", "strokeWidth": 0.6},
    "encoding": {
     "x": {"field": "wl", "type": "quantitative", "scale": {"domain": [300, 1100], "range": [57, 410], "nice": false, "zero": false},
       "axis": {"orient": "top", "offset": -77, "domain": true, "domainColor": "#1a1a1a", "domainWidth": 1.5, "tickWidth": 1.2, "values": [300,350,400,450,500,550,600,650,700,750,800,850,900,950,1000,1050,1100], "labels": false, "title": null, "tickSize": {"condition": {"test": "datum.value % 100 !== 0", "value": -2.5}, "value": -5}}},
     "y": {"field": "jsc", "type": "quantitative", "scale": {"domain": [0, 30], "range": [331, 77], "nice": false, "zero": false},
       "axis": {"orient": "right", "offset": -85, "domain": true, "domainColor": "#1a1a1a", "domainWidth": 1.5, "tickWidth": 1.2, "values": [0,2.5,5,7.5,10,12.5,15,17.5,20,22.5,25,27.5,30], "labelExpr": "datum.value % 5 === 0 ? format(datum.value, 'd') : ''", "tickSize": {"condition": {"test": "datum.value % 5 !== 0", "value": -2.5}, "value": -5}, "labelPadding": 11, "labelFontSize": 12, "title": "Integrated Jsc (mA cm\u207b\u00b2)", "titleFontSize": 17, "titlePadding": 3, "titleAngle": 270, "titleBaseline": "top"}}
    }},
   {"data": {"name": "eqe"}, "mark": {"type": "point", "filled": false, "size": 30, "color": "#e31b23", "strokeWidth": 0.8, "opacity": 1},
    "encoding": {
     "x": {"field": "wl", "type": "quantitative", "scale": {"domain": [300, 1100], "range": [57, 410], "nice": false, "zero": false}, "axis": null},
     "y": {"field": "jsc", "type": "quantitative", "scale": {"domain": [0, 30], "range": [331, 77], "nice": false, "zero": false}, "axis": null}
    }},
   {"data": {"name": "note"}, "mark": {"type": "text", "align": "left", "baseline": "alphabetic", "fontSize": 15, "fontWeight": "bold", "font": "Liberation Sans", "color": "#e31b23"},
    "encoding": {
     "x": {"field": "wl", "type": "quantitative", "scale": {"domain": [300, 1100], "range": [57, 410], "nice": false, "zero": false}, "axis": null},
     "y": {"field": "jsc", "type": "quantitative", "scale": {"domain": [0, 30], "range": [331, 77], "nice": false, "zero": false}, "axis": null},
     "text": {"field": "label"}
    }}
  ],
  "resolve": {"scale": {"x": "independent", "y": "independent"}, "axis": {"x": "independent", "y": "independent"}}
 }
]}
]
}
